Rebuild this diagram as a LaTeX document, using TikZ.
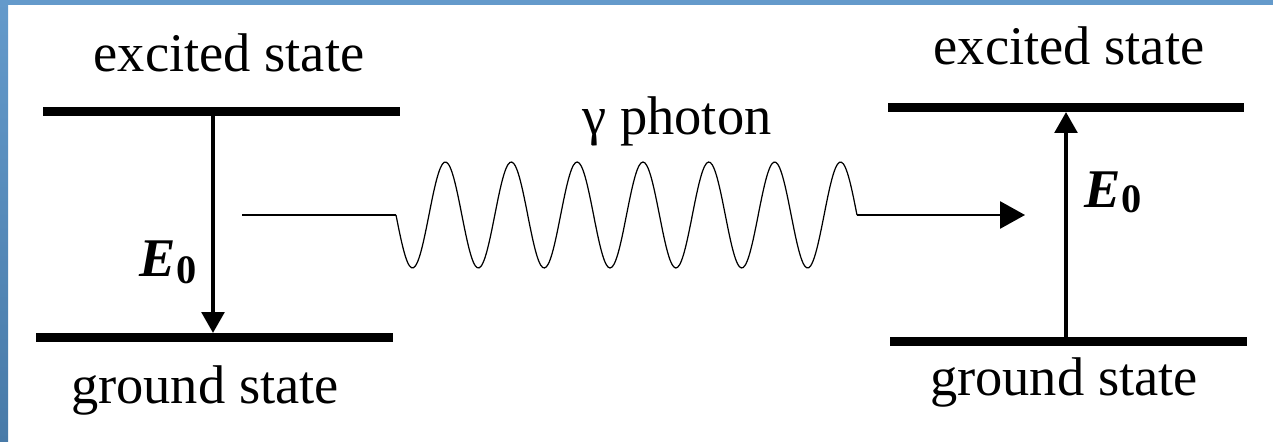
\documentclass[tikz,border=0pt]{standalone}
\usepackage{fontspec}
\setmainfont{Liberation Serif}
\usetikzlibrary{positioning, arrows.meta}
\definecolor{frameblue}{RGB}{100,154,203}
\definecolor{framedark}{RGB}{72,122,168}

\begin{document}
\begin{tikzpicture}[
    x=0.02cm, y=-0.02cm,
    level/.style={line width=5pt},
    transition/.style={line width=2.4pt, -{Triangle[length=0.42cm, width=0.45cm]}},
    photonline/.style={line width=1.6pt},
    wave/.style={line width=0.7pt},
    statetext/.style={font=\fontsize{31}{33}\selectfont, inner sep=0pt, anchor=base},
    energytext/.style={font=\fontsize{31}{33}\selectfont, inner sep=0pt, anchor=base}
]
\useasboundingbox (0,0) rectangle (1273,442);
\fill[white] (0,0) rectangle (1273,442);
\shade[top color=frameblue, bottom color=framedark] (0,0) rectangle (8,442);
\fill[frameblue] (0,0) rectangle (1273,5);

% energy levels
\coordinate (exLa) at (43,111.5);
\coordinate (exLb) at (400,111.5);
\coordinate (gdLa) at (36,337.5);
\coordinate (gdLb) at (393,337.5);
\coordinate (exRa) at (888,107.5);
\coordinate (exRb) at (1244,107.5);
\coordinate (gdRa) at (890,341.5);
\coordinate (gdRb) at (1247,341.5);

\draw[level] (exLa) -- (exLb);
\draw[level] (gdLa) -- (gdLb);
\draw[level] (exRa) -- (exRb);
\draw[level] (gdRa) -- (gdRb);

\node[statetext] (excitedL) at (229,72) {excited state};
\node[statetext] (groundL) at (205,403) {ground state};
\node[statetext] (excitedR) at (1069,65) {excited state};
\node[statetext] (groundR) at (1064,395) {ground state};
\node[statetext] (photon) at (677,135) {γ photon};

% transitions
\coordinate (emitTop) at (213,116);
\coordinate (emitBot) at (213,333);
\coordinate (absBot) at (1066,337);
\coordinate (absTop) at (1066,112);

\draw[transition] (emitTop) -- (emitBot);
\draw[transition] (absBot) -- (absTop);

\node[energytext] (energyL) at (168,276)
    {\textbf{\textit{E}}{\fontsize{23}{23}\selectfont\bfseries\raisebox{-0.14cm}{0}}};
\node[energytext] (energyR) at (1113,207)
    {\textbf{\textit{E}}{\fontsize{23}{23}\selectfont\bfseries\raisebox{-0.12cm}{0}}};

% photon
\coordinate (phStart) at (242,215);
\coordinate (waveA) at (396,215);
\coordinate (waveB) at (857,215);
\coordinate (phEnd) at (1025,215);

\draw[photonline] (phStart) -- (waveA);
\draw[wave] plot[domain=396:857, samples=240, smooth] (\x, {215 + 53*sin(5.4664*(\x-396))});
\draw[photonline, -{Triangle[length=0.5cm, width=0.54cm]}] (waveB) -- (phEnd);

\end{tikzpicture}
\end{document}
